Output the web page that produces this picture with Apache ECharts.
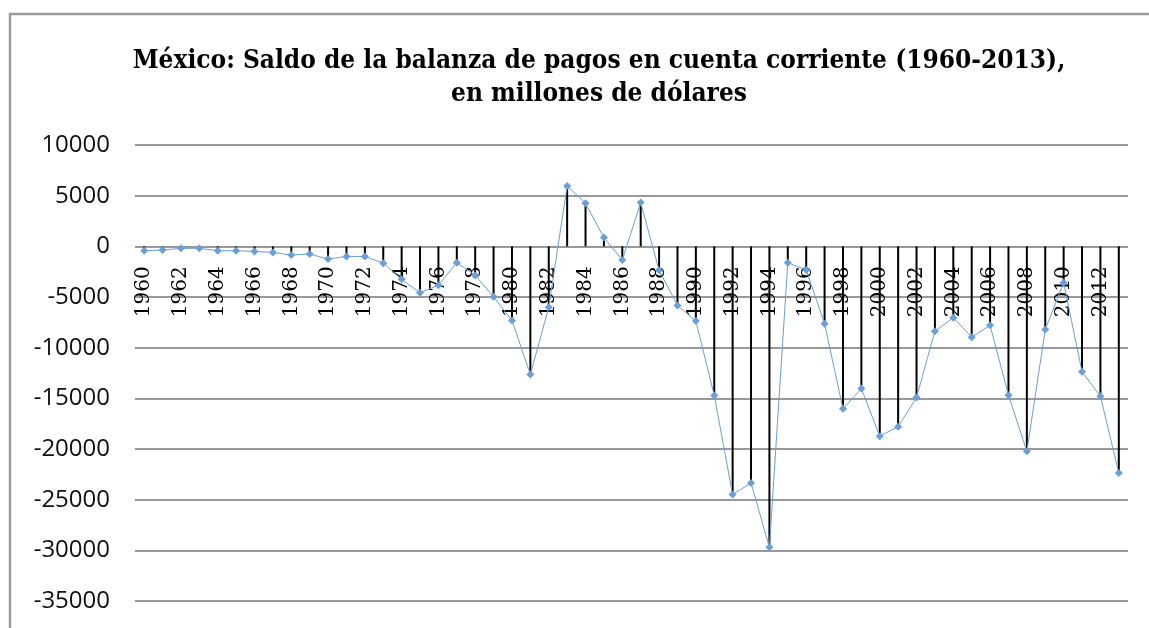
<!DOCTYPE html>
<html>
<head>
<meta charset="utf-8">
<script src="https://cdn.jsdelivr.net/npm/echarts@6/dist/echarts.min.js"></script>
<style>
html,body{margin:0;padding:0;background:#fff;}
#chart{width:1149px;height:628px;}
</style>
</head>
<body>
<div id="chart"></div>
<script>
const titleText = 'México: Saldo de la balanza de pagos en cuenta corriente (1960-2013),\nen millones de dólares';
const years = ['1960','1961','1962','1963','1964','1965','1966','1967','1968','1969',
  '1970','1971','1972','1973','1974','1975','1976','1977','1978','1979',
  '1980','1981','1982','1983','1984','1985','1986','1987','1988','1989',
  '1990','1991','1992','1993','1994','1995','1996','1997','1998','1999',
  '2000','2001','2002','2003','2004','2005','2006','2007','2008','2009',
  '2010','2011','2012','2013'];
const balance = [-430,-360,-200,-200,-430,-430,-500,-600,-860,-760,
  -1260,-1000,-1000,-1660,-3260,-4580,-3850,-1610,-2870,-4970,
  -7310,-12650,-6000,5960,4250,860,-1350,4320,-2370,-5830,
  -7380,-14720,-24500,-23350,-29700,-1610,-2340,-7640,-16040,-14030,
  -18740,-17800,-14920,-8370,-7050,-8960,-7800,-14690,-20220,-8200,
  -3590,-12380,-14790,-22360];
const yMin = -35000, yMax = 10000, yStep = 5000;

const W = 1149, H = 628;
const gridTop = 145, gridBottom = 27;
const gridH = H - gridTop - gridBottom;
// place the category axis on the zero line of the value scale
const zeroOffset = -gridH * (0 - yMin) / (yMax - yMin);

const chart = echarts.init(document.getElementById('chart'), null, {renderer:'canvas'});
chart.setOption({
  animation:false,
  backgroundColor:'#fff',
  graphic:[{
    type:'rect', shape:{x:10, y:14, width:1300, height:800},
    style:{fill:'none', stroke:'#9a9a9a', lineWidth:2.5}, z:-10, silent:true
  }],
  title:{
    text:titleText,
    left:594, top:40, textAlign:'center',
    textStyle:{fontFamily:'DejaVu Serif Condensed', fontWeight:'bold', fontSize:26, lineHeight:33, color:'#000'}
  },
  grid:{left:135, right:21, top:gridTop, bottom:gridBottom, containLabel:false, outerBoundsMode:'none'},
  xAxis:{
    type:'category', data:years, boundaryGap:true, position:'bottom', offset:zeroOffset,
    axisLine:{show:false, onZero:false},
    axisTick:{show:false},
    axisLabel:{interval:1, rotate:90, margin:20, fontFamily:'DejaVu Serif', fontSize:20, color:'#000'},
    splitLine:{show:false}
  },
  yAxis:{
    type:'value', min:yMin, max:yMax, interval:yStep,
    axisLine:{show:false}, axisTick:{show:false},
    axisLabel:{margin:25, fontFamily:'Open Sans', fontSize:24, color:'#111', formatter:function(v){return String(v);}},
    splitLine:{show:true, lineStyle:{color:'#999', width:2}}
  },
  series:[
    {type:'bar', data:balance, barWidth:2, itemStyle:{color:'#000'}, z:2, silent:true},
    {type:'line', data:balance, symbol:'diamond', symbolSize:8, lineStyle:{color:'#6a9fd8', width:1},
     itemStyle:{color:'#6a9fd8'}, z:3, silent:true}
  ]
});
</script>
</body>
</html>
